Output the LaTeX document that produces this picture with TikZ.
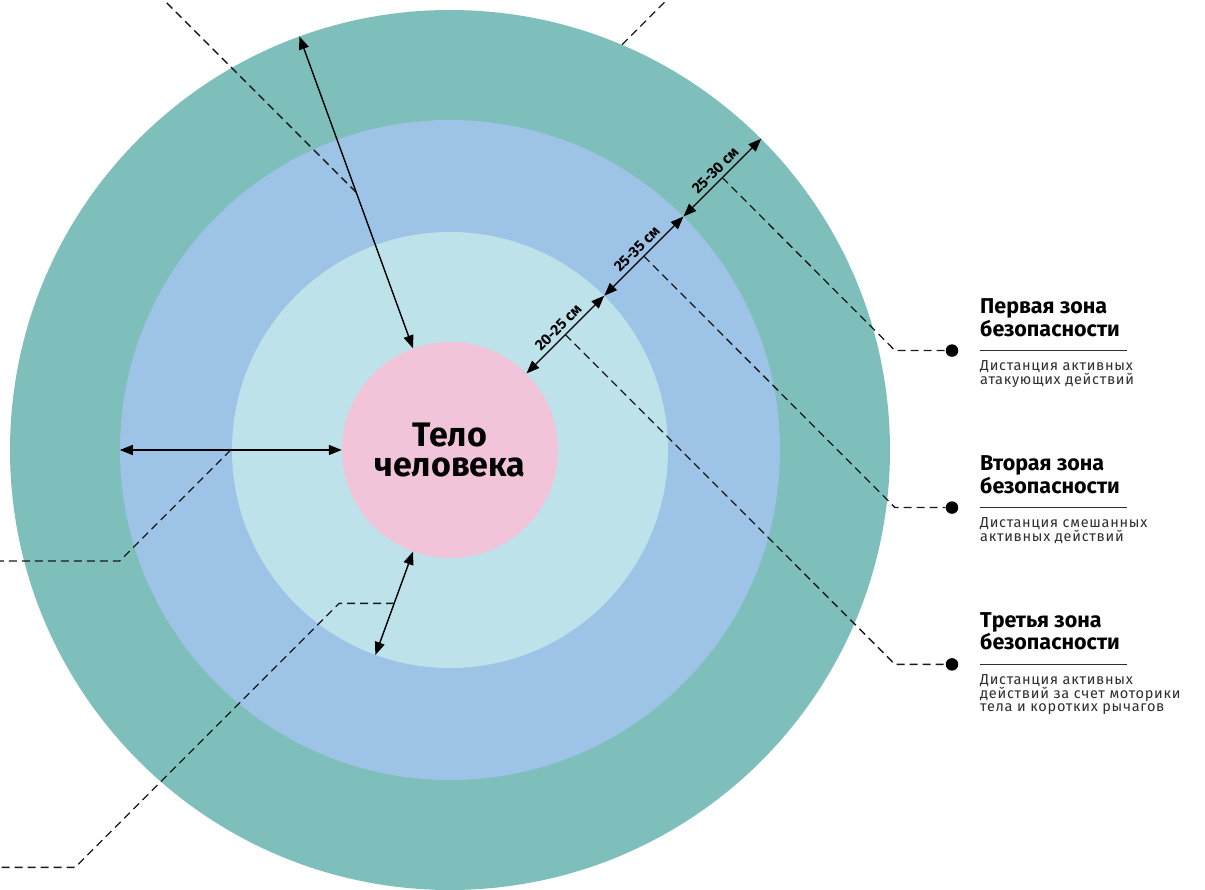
\documentclass[tikz,border=0pt]{standalone}
\usepackage{fontspec}
\setmainfont{Fira Sans}
\newfontfamily\descfont[LetterSpace=5]{Fira Sans}
\usetikzlibrary{positioning,arrows.meta}

\definecolor{zoneone}{HTML}{7EBFBC}
\definecolor{zonetwo}{HTML}{9DC3E6}
\definecolor{zonethree}{HTML}{BDE2EA}
\definecolor{bodypink}{HTML}{F1C4DA}
\definecolor{textgray}{HTML}{2E2E2E}

\begin{document}
\begin{tikzpicture}[
x=1pt, y=1pt,
zone/.style={circle, inner sep=0pt, minimum size=#1},
dim/.style={{Triangle[length=13pt,width=10pt]}-{Triangle[length=13pt,width=10pt]}, line width=1.4pt},
dimlabel/.style={sloped, above, inner sep=4pt, font=\fontsize{15}{15}\selectfont\bfseries},
lead/.style={dash pattern=on 8pt off 5pt, line width=1.3pt, black!90},
dot/.style={circle, fill=black, inner sep=0pt, minimum size=12.5pt},
title/.style={inner sep=0pt, align=left, font=\fontsize{21.5}{20}\selectfont\bfseries},
desc/.style={inner sep=0pt, align=left, text=textgray, font=\descfont\fontsize{14.5}{13.5}\selectfont},
rule/.style={line width=1.3pt, textgray}
]
\fill[white] (-450,-440) rectangle (755,450);
\useasboundingbox (-450,-440) rectangle (755,450);

% zones around the body
\node[zone=880pt, fill=zoneone] (outer) at (0,0) {};
\node[zone=660pt, fill=zonetwo] (middle) at (0,0) {};
\node[zone=436pt, fill=zonethree] (inner) at (0,0) {};
\node[zone=216pt, fill=bodypink, align=center, font=\fontsize{34}{30}\selectfont\bfseries] (body) at (0,0) {Тело\\человека};

% distances
\draw[dim] (body.110) -- coordinate (ma) (outer.110);
\draw[dim] (body.180) -- coordinate (mb) (middle.180);
\draw[dim] (body.-110) -- coordinate (mc) (inner.-110);
\draw[dim] (body.45) -- node[dimlabel] {20-25 см} coordinate (m1) (inner.45);
\draw[dim] (inner.45) -- node[dimlabel] {25-35 см} coordinate (m2) (middle.45);
\draw[dim] (middle.45) -- node[dimlabel] {25-30 см} coordinate (m3) (outer.45);

% leaders running off the page
\draw[lead] (ma) -- ++(135:273);
\draw[lead] (mb) -- ++(-111,-111) -- ++(-120,0);
\draw[lead] (mc) -- ++(-55,0) -- ++(-264,-264) -- ++(-76,0);
\draw[lead] (outer.67.5) -- ++(45:62);

% zone legend
\node[dot] (dot1) at (502,99.4) {};
\node[dot] (dot2) at (502,-57.6) {};
\node[dot] (dot3) at (502,-214.4) {};
\draw[lead] (m3) -- ([xshift=-57pt]dot1.center) -- (dot1);
\draw[lead] (m2) -- ([xshift=-57pt]dot2.center) -- (dot2);
\draw[lead] (m1) -- ([xshift=-57pt]dot3.center) -- (dot3);

\node[title, above right=14pt and 28pt of dot1.center] (t1) {Первая зона\\безопасности};
\draw[rule] ([xshift=28pt]dot1.center) -- ++(147,0);
\node[desc, below right=10pt and 28pt of dot1.center] (d1) {Дистанция активных\\атакующих действий};

\node[title, above right=14pt and 28pt of dot2.center] (t2) {Вторая зона\\безопасности};
\draw[rule] ([xshift=28pt]dot2.center) -- ++(147,0);
\node[desc, below right=10pt and 28pt of dot2.center] (d2) {Дистанция смешанных\\активных действий};

\node[title, above right=14pt and 28pt of dot3.center] (t3) {Третья зона\\безопасности};
\draw[rule] ([xshift=28pt]dot3.center) -- ++(147,0);
\node[desc, below right=10pt and 28pt of dot3.center] (d3) {Дистанция активных\\действий за счет моторики\\тела и коротких рычагов};
\end{tikzpicture}
\end{document}
